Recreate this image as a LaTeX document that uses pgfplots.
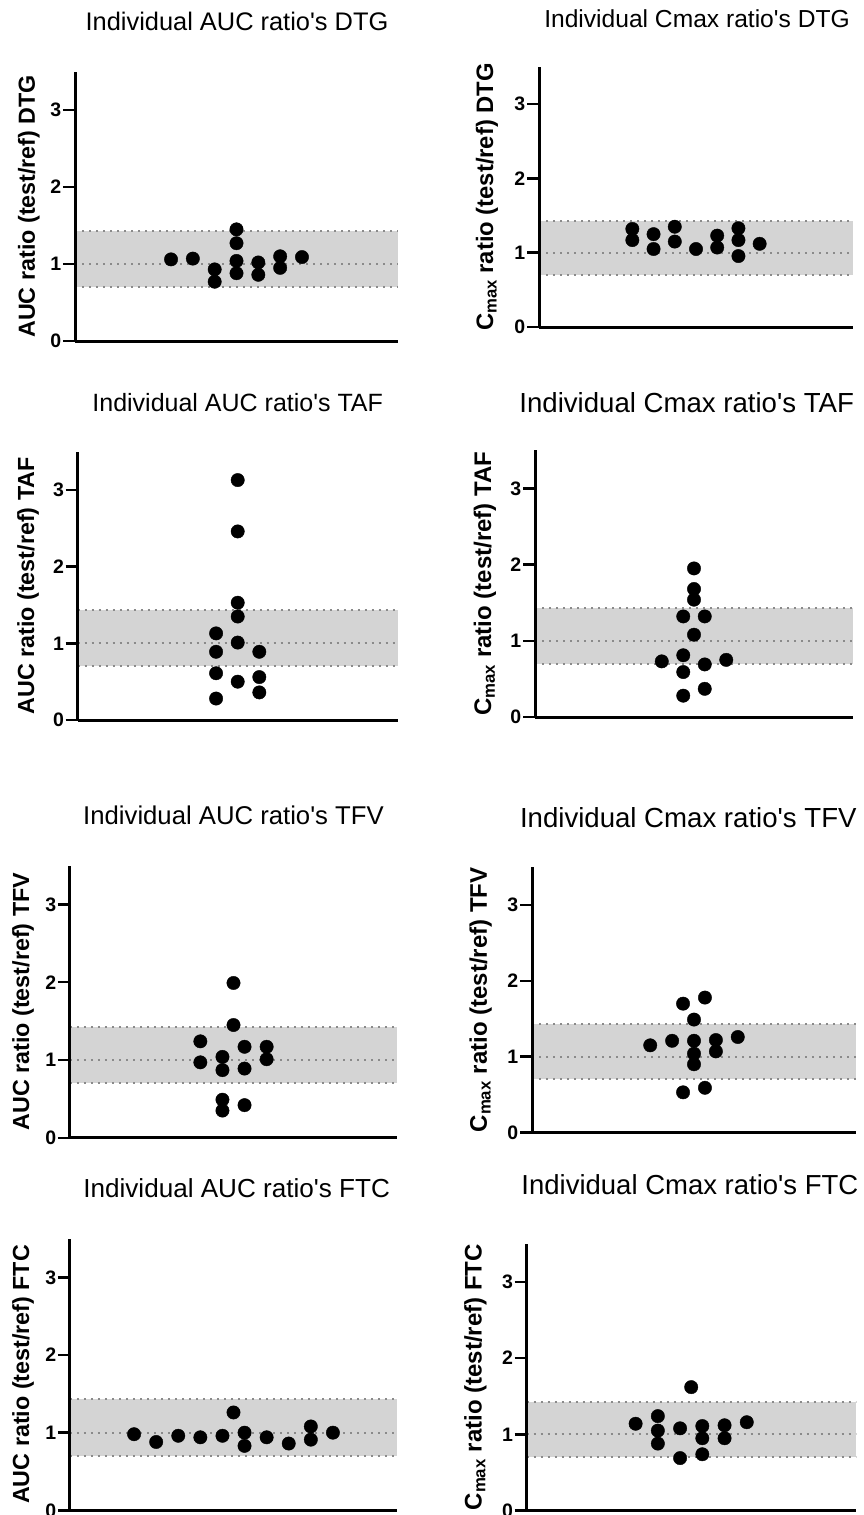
\documentclass[border=0pt]{standalone}
\usepackage{fontspec}
\setmainfont{Liberation Sans}
\usepackage{pgfplots}
\pgfplotsset{compat=1.18}
\definecolor{band}{HTML}{D4D4D4}
\definecolor{dotline}{HTML}{8A8A8A}
\pgfplotsset{
  panel/.style={
    scale only axis, anchor=south west,
    xmin=-7.4, xmax=7.4, ymin=0, ymax=3.5,
    axis lines=left,
    axis line style={line width=3pt, -, black},
    xtick=\empty, ytick={0,1,2,3},
    tick align=outside, major tick length=12pt,
    ytick style={line width=2.5pt, black},
    /pgf/number format/assume math mode=true,
    yticklabel={\bfseries\fontsize{19.5}{23}\selectfont\pgfmathprintnumber{\tick}},
    yticklabel style={inner sep=1.5pt},
    axis on top, clip=false,
    title style={at={(axis description cs:0.5,1)}, anchor=base},
    ylabel style={anchor=base, font=\bfseries},
  },
  dots/.style={only marks, mark=*, mark size=6.7pt, black},
}
\newcommand{\band}{%
  \addplot[fill=band, draw=none] coordinates {(-7.4,0.7) (7.4,0.7) (7.4,1.43) (-7.4,1.43)} -- cycle;
  \addplot[dotline, line width=2pt, dash pattern=on 2pt off 5pt] coordinates {(-7.4,0.7) (7.4,0.7)};
  \addplot[dotline, line width=2pt, dash pattern=on 2pt off 5pt] coordinates {(-7.4,1) (7.4,1)};
  \addplot[dotline, line width=2pt, dash pattern=on 2pt off 5pt] coordinates {(-7.4,1.43) (7.4,1.43)};
}
\newcommand{\tq}{\textquotesingle}
\begin{document}
\begin{tikzpicture}
\path[use as bounding box] (0pt,0pt) rectangle (863pt,-1515pt);

% Panel 1: AUC DTG
\begin{axis}[panel, at={(75pt,-341pt)}, width=323pt, height=269.5pt,
  title={Individual AUC ratio\tq s DTG},
  title style={yshift=35pt, xshift=0.5pt, font=\fontsize{25.4}{30}\selectfont},
  ylabel={AUC ratio (test/ref) DTG},
  ylabel style={at={(axis description cs:-0.124,0.5)}, font=\bfseries\fontsize{23.3}{27}\selectfont}]
\band
\addplot[dots] coordinates {(-3,1.06) (-2,1.07) (-1,0.93) (-1,0.77) (0,1.45) (0,1.27) (0,1.04) (0,0.88) (1,1.02) (1,0.86) (2,1.10) (2,0.95) (3,1.09)};
\end{axis}

% Panel 2: Cmax DTG
\begin{axis}[panel, at={(539pt,-327pt)}, width=314pt, height=260pt,
  title={Individual Cmax ratio\tq s DTG},
  title style={yshift=34pt, xshift=1pt, font=\fontsize{24.6}{30}\selectfont},
  ylabel={C\textsubscript{max} ratio (test/ref) DTG},
  ylabel style={at={(axis description cs:-0.1465,0.5)}, font=\bfseries\fontsize{23.8}{27}\selectfont}]
\band
\addplot[dots] coordinates {(-3,1.32) (-3,1.17) (-2,1.25) (-2,1.05) (-1,1.35) (-1,1.15) (0,1.05) (1,1.23) (1,1.07) (2,1.33) (2,1.17) (2,0.955) (3,1.12)};
\end{axis}

% Panel 3: AUC TAF
\begin{axis}[panel, at={(77.7pt,-720pt)}, width=320pt, height=268.3pt,
  title={Individual AUC ratio\tq s TAF},
  title style={yshift=34.4pt, font=\fontsize{25}{30}\selectfont},
  ylabel={AUC ratio (test/ref) TAF},
  ylabel style={at={(axis description cs:-0.136,0.5)}, font=\bfseries\fontsize{23.3}{27}\selectfont}]
\band
\addplot[dots] coordinates {(-1,1.13) (-1,0.89) (-1,0.61) (-1,0.28) (0,3.13) (0,2.46) (0,1.53) (0,1.35) (0,1.01) (0,0.50) (1,0.89) (1,0.56) (1,0.36)};
\end{axis}

% Panel 4: Cmax TAF
\begin{axis}[panel, at={(535pt,-717pt)}, width=318pt, height=266.7pt,
  title={Individual Cmax ratio\tq s TAF},
  title style={yshift=31.7pt, xshift=-7.3pt, font=\fontsize{27.6}{32}\selectfont},
  ylabel={C\textsubscript{max} ratio (test/ref) TAF},
  ylabel style={at={(axis description cs:-0.138,0.5)}, font=\bfseries\fontsize{24}{27}\selectfont}]
\band
\addplot[dots] coordinates {(-1.5,0.73) (-0.5,1.32) (-0.5,0.81) (-0.5,0.59) (-0.5,0.28) (0,1.95) (0,1.68) (0,1.54) (0,1.08) (0.5,1.32) (0.5,0.69) (0.5,0.37) (1.5,0.75)};
\end{axis}

% Panel 5: AUC TFV
\begin{axis}[panel, at={(70pt,-1137.8pt)}, width=327pt, height=272.3pt,
  title={Individual AUC ratio\tq s TFV},
  title style={yshift=35pt, font=\fontsize{25.7}{30}\selectfont},
  ylabel={AUC ratio (test/ref) TFV},
  ylabel style={at={(axis description cs:-0.125,0.5)}, font=\bfseries\fontsize{23.3}{27}\selectfont}]
\band
\addplot[dots] coordinates {(-1.5,1.24) (-1.5,0.97) (-0.5,1.04) (-0.5,0.87) (-0.5,0.49) (-0.5,0.35) (0,1.99) (0,1.45) (0.5,1.17) (0.5,0.89) (0.5,0.42) (1.5,1.17) (1.5,1.01)};
\end{axis}

% Panel 6: Cmax TFV
\begin{axis}[panel, at={(532pt,-1132.5pt)}, width=324pt, height=265.3pt,
  title={Individual Cmax ratio\tq s TFV},
  title style={yshift=33.3pt, xshift=-5.7pt, font=\fontsize{27.6}{32}\selectfont},
  ylabel={C\textsubscript{max} ratio (test/ref) TFV},
  ylabel style={at={(axis description cs:-0.139,0.5)}, font=\bfseries\fontsize{24}{27}\selectfont}]
\band
\addplot[dots] coordinates {(-2,1.15) (-1,1.21) (-0.5,1.70) (-0.5,0.53) (0,1.49) (0,1.21) (0,1.04) (0,0.90) (0.5,1.78) (0.5,0.59) (1,1.22) (1,1.07) (2,1.26)};
\end{axis}

% Panel 7: AUC FTC
\begin{axis}[panel, at={(70pt,-1510.3pt)}, width=327pt, height=271.8pt,
  title={Individual AUC ratio\tq s FTC},
  title style={yshift=34.6pt, xshift=3.2pt, font=\fontsize{26.1}{30}\selectfont},
  ylabel={AUC ratio (test/ref) FTC},
  ylabel style={at={(axis description cs:-0.125,0.5)}, font=\bfseries\fontsize{23.3}{27}\selectfont}]
\band
\addplot[dots] coordinates {(-4.5,0.98) (-3.5,0.88) (-2.5,0.96) (-1.5,0.94) (-0.5,0.96) (0,1.26) (0.5,1.00) (0.5,0.83) (1.5,0.94) (2.5,0.86) (3.5,1.08) (3.5,0.91) (4.5,1.00)};
\end{axis}

% Panel 8: Cmax FTC
\begin{axis}[panel, at={(526.7pt,-1510.7pt)}, width=329pt, height=267pt,
  title={Individual Cmax ratio\tq s FTC},
  title style={yshift=43pt, xshift=-1.3pt, font=\fontsize{27.5}{32}\selectfont},
  ylabel={C\textsubscript{max} ratio (test/ref) FTC},
  ylabel style={at={(axis description cs:-0.137,0.5)}, font=\bfseries\fontsize{24}{27}\selectfont}]
\band
\addplot[dots] coordinates {(-2.5,1.14) (-1.5,1.24) (-1.5,1.05) (-1.5,0.88) (-0.5,1.08) (-0.5,0.69) (0,1.62) (0.5,1.11) (0.5,0.95) (0.5,0.74) (1.5,1.12) (1.5,0.95) (2.5,1.16)};
\end{axis}
\end{tikzpicture}
\end{document}
